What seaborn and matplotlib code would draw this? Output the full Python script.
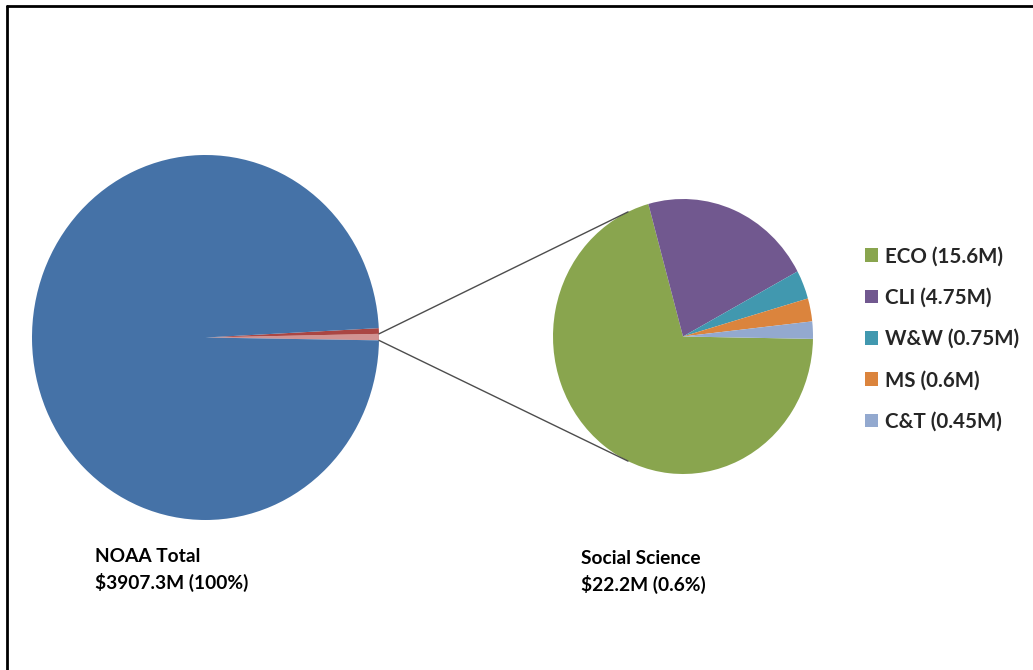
import matplotlib
matplotlib.use("Agg")
import matplotlib.pyplot as plt
from matplotlib.patches import ConnectionPatch
from matplotlib.lines import Line2D
import numpy as np
import seaborn as sns

# --- data -------------------------------------------------------------
noaa_total = 3907.3                       # $M
social_science = 22.2                     # $M, exploded into the second pie
other_slice = 19.5                        # $M, neighbouring slice in the main pie

sub_labels = ["ECO", "CLI", "W&W", "MS", "C&T"]
sub_values = [15.6, 4.75, 0.75, 0.6, 0.45]   # $M

main_values = [social_science, other_slice,
               noaa_total - social_science - other_slice]

# --- style ------------------------------------------------------------
sns.set_theme(style="white")
plt.rcParams["font.family"] = ["Lato", "DejaVu Sans"]

main_colors = sns.color_palette(["#D19392", "#AA4643", "#4572A7"])
sub_colors = sns.color_palette(["#89A54E", "#71588F", "#4198AF", "#DB843D", "#93A9CF"])

W, H = 1033, 670
fig = plt.figure(figsize=(W / 100, H / 100), dpi=100)
fig.patch.set_facecolor("white")


def px_axes(x0, y0, x1, y1):
    """Axes placed by pixel box (top-left origin)."""
    return fig.add_axes([x0 / W, 1 - y1 / H, (x1 - x0) / W, (y1 - y0) / H])


# main pie
ax1 = px_axes(32, 155, 379, 520)
w_main, _ = ax1.pie(main_values, colors=main_colors, startangle=-0.9,
                    counterclock=True, wedgeprops=dict(linewidth=0))
ax1.set_aspect("auto")
ax1.set_xlim(-1, 1)
ax1.set_ylim(-1, 1)

# secondary pie (breakdown of the social science slice)
ax2 = px_axes(553, 199, 813, 474)
w_sub, _ = ax2.pie(sub_values, colors=sub_colors, startangle=-1,
                   counterclock=False, wedgeprops=dict(linewidth=0))
ax2.set_aspect("auto")
ax2.set_xlim(-1, 1)
ax2.set_ylim(-1, 1)

# connector lines from the exploded slice to the secondary pie
ss = w_main[0]
attach = 115.0
for t_main, t_sub in ((ss.theta2, attach), (ss.theta1, -attach)):
    a, b = np.radians(t_main), np.radians(t_sub)
    con = ConnectionPatch(xyA=(np.cos(a), np.sin(a)), coordsA=ax1.transData,
                          xyB=(np.cos(b), np.sin(b)), coordsB=ax2.transData,
                          color="#4d4d4d", lw=1.0)
    fig.add_artist(con)

# legend
leg_labels = [f"{n} ({v:g}M)" for n, v in zip(sub_labels, sub_values)]
fig.legend(w_sub, leg_labels, loc="center left",
           bbox_to_anchor=(865 / W, 1 - 339 / H), frameon=False,
           prop=dict(family="Lato", weight="bold", size=14.8),
           handlelength=0.65, handleheight=0.65, handletextpad=0.3,
           labelspacing=1.04, borderaxespad=0, borderpad=0)

# captions
txt = dict(family="Lato", weight="bold", size=13.8, color="black", va="center")
fig.text(95 / W, 1 - 557 / H, "NOAA Total", **txt)
fig.text(95 / W, 1 - 582 / H, f"${noaa_total:.1f}M (100%)", **txt)
fig.text(581 / W, 1 - 558 / H, "Social Science", **txt)
fig.text(581 / W, 1 - 584 / H,
         f"${social_science:.1f}M ({100 * social_science / noaa_total:.1f}%)", **txt)

# chart-area frame (top and left edges)
fig.add_artist(Line2D([7 / W, 1.0], [1 - 6 / H, 1 - 6 / H], color="black", lw=2,
                      transform=fig.transFigure))
fig.add_artist(Line2D([7 / W, 7 / W], [0.0, 1 - 6 / H], color="black", lw=2,
                      transform=fig.transFigure))

fig.savefig("out.png", dpi=100, facecolor="white")
